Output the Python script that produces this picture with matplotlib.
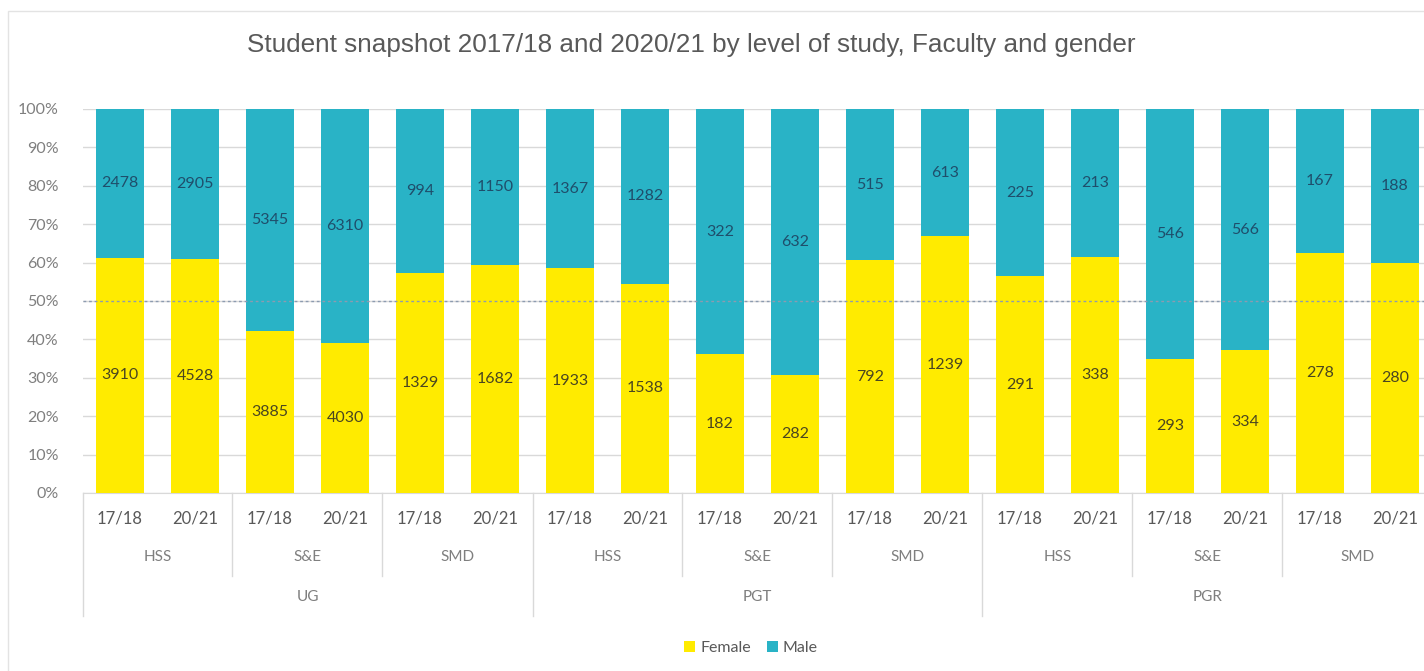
import matplotlib
matplotlib.use("Agg")
import matplotlib.pyplot as plt
import matplotlib.transforms as mtransforms
from matplotlib.patches import Patch, Rectangle
import numpy as np

plt.rcParams['font.family'] = ['Lato', 'DejaVu Sans']

# Data: level -> faculty -> year
levels = ["UG", "PGT", "PGR"]
faculties = ["HSS", "S&E", "SMD"]
years = ["17/18", "20/21"]

female = [3910, 4528, 3885, 4030, 1329, 1682,
          1933, 1538, 182, 282, 792, 1239,
          291, 338, 293, 334, 278, 280]
male = [2478, 2905, 5345, 6310, 994, 1150,
        1367, 1282, 322, 632, 515, 613,
        225, 213, 546, 566, 167, 188]

title = "Student snapshot 2017/18 and 2020/21 by level of study, Faculty and gender"

YELLOW = "#FFEB00"
TEAL = "#29B3C6"
GRID = "#D9D9D9"
TXT = "#7F7F7F"

female_a = np.array(female, dtype=float)
male_a = np.array(male, dtype=float)
total = female_a + male_a
f_pct = female_a / total
m_pct = male_a / total

n = len(female)
x = np.arange(n)

W, H = 1424, 671
fig = plt.figure(figsize=(W / 100, H / 100), dpi=100)

# outer chart frame
fig.patches.append(Rectangle((8 / W, -0.02), 1.1, 1 - 11 / H + 0.02,
                             transform=fig.transFigure, fill=False,
                             edgecolor="#E3E3E3", linewidth=1.0))

left_px, right_px = 82.5, 1432.5
top_px, bot_px = 109, 493
ax = fig.add_axes([left_px / W, 1 - bot_px / H,
                   (right_px - left_px) / W, (bot_px - top_px) / H])

bw = 0.65
ax.bar(x, f_pct, width=bw, color=YELLOW, zorder=3, label="Female")
ax.bar(x, m_pct, width=bw, bottom=f_pct, color=TEAL, zorder=3, label="Male")

for i in range(n):
    ax.text(x[i], f_pct[i] / 2, f"{female[i]}", ha="center", va="center",
            fontsize=11.5, color="#4A4620", zorder=4)
    ax.text(x[i], f_pct[i] + m_pct[i] / 2, f"{male[i]}", ha="center",
            va="center", fontsize=11.5, color="#1F4E6B", zorder=4)

ax.set_xlim(-0.5, n - 0.5)
ax.set_ylim(0, 1)
ax.set_yticks(np.arange(0, 1.01, 0.1))
ax.set_yticklabels([f"{int(round(v * 100))}%" for v in np.arange(0, 1.01, 0.1)],
                   color=TXT, fontsize=11.5)
ax.tick_params(axis="y", length=0, pad=17)
ax.tick_params(axis="x", length=0)
ax.set_xticks([])
ax.yaxis.grid(True, color=GRID, linewidth=1.0, zorder=0)
for s in ["top", "right", "left"]:
    ax.spines[s].set_visible(False)
ax.spines["bottom"].set_color(GRID)
ax.axhline(0.5, color="#8C9BB0", linestyle=(0, (2, 2)), linewidth=1.0, zorder=5)

# multi-level category axis
trans = mtransforms.blended_transform_factory(ax.transData, ax.transAxes)
px = bot_px - top_px


def yax(ypx):
    return (bot_px - ypx) / px


for i in range(n):
    ax.text(x[i], yax(519), years[i % 2], transform=trans, ha="center",
            va="center", fontsize=12, color="#595959")

for g in range(len(levels) * len(faculties)):
    cx = 2 * g + 0.5
    ax.text(cx, yax(557), faculties[g % 3], transform=trans, ha="center",
            va="center", fontsize=11, color=TXT)

for l, lev in enumerate(levels):
    cx = 6 * l + 2.5
    ax.text(cx, yax(597), lev, transform=trans, ha="center", va="center",
            fontsize=11, color=TXT)

for b in range(0, n + 1, 2):
    xb = b - 0.5
    y_end = yax(616) if b % 6 == 0 else yax(576)
    ax.plot([xb, xb], [0, y_end], transform=trans, color=GRID,
            linewidth=1.0, clip_on=False)

fig.text(691 / W, 1 - 45 / H, title, ha="center", va="center",
         fontsize=18.8, color="#595959",
         family=["Liberation Sans", "DejaVu Sans"])

handles = [Patch(facecolor=YELLOW, label="Female"),
           Patch(facecolor=TEAL, label="Male")]
fig.legend(handles=handles, loc="center", bbox_to_anchor=(751 / W, 1 - 648 / H),
           ncol=2, frameon=False, fontsize=11.5, handlelength=0.7,
           handleheight=0.7, handletextpad=0.3, columnspacing=1.0,
           labelcolor="#595959")

fig.savefig("out.png", dpi=100, facecolor="white")
